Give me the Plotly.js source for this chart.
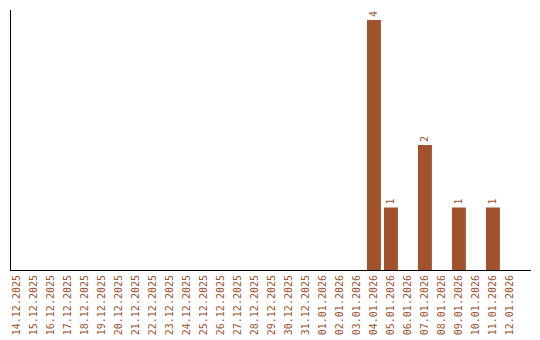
<!DOCTYPE html>
<html><head><meta charset="utf-8">
<script src="https://cdn.plot.ly/plotly-3.0.1.min.js"></script>
<style>body{margin:0;background:#fff}#c{width:540px;height:340px}</style>
</head><body><div id="c"></div>
<script>
const dates = ["14.12.2025","15.12.2025","16.12.2025","17.12.2025","18.12.2025","19.12.2025","20.12.2025","21.12.2025","22.12.2025","23.12.2025","24.12.2025","25.12.2025","26.12.2025","27.12.2025","28.12.2025","29.12.2025","30.12.2025","31.12.2025","01.01.2026","02.01.2026","03.01.2026","04.01.2026","05.01.2026","06.01.2026","07.01.2026","08.01.2026","09.01.2026","10.01.2026","11.01.2026","12.01.2026"];
const counts = [0,0,0,0,0,0,0,0,0,0,0,0,0,0,0,0,0,0,0,0,0,4,1,0,2,0,1,0,1,0];
const labels = counts.map(v => v > 0 ? String(v) : "");
const color = "#A0522D";
Plotly.newPlot("c", [{
  type: "bar", x: dates, y: counts, text: labels,
  textposition: "outside", textangle: -90, cliponaxis: false,
  textfont: {family: "DejaVu Sans Mono", size: 10, color: color},
  marker: {color: color}, width: 0.82, hoverinfo: "none"
}], {
  width: 540, height: 340,
  margin: {l: 11, r: 9, t: 10, b: 70},
  paper_bgcolor: "#fff", plot_bgcolor: "#fff",
  showlegend: false,
  xaxis: {type: "category", range: [-0.35, 30.24], tickangle: -90,
    showgrid: false, zeroline: false, showline: true, linecolor: "#000", linewidth: 1,
    ticks: "", tickfont: {family: "DejaVu Sans Mono", size: 10, color: color}},
  yaxis: {range: [0, 4.16], showgrid: false, zeroline: false, showline: true,
    linecolor: "#000", linewidth: 1, ticks: "", showticklabels: false}
}, {staticPlot: true});
</script></body></html>
